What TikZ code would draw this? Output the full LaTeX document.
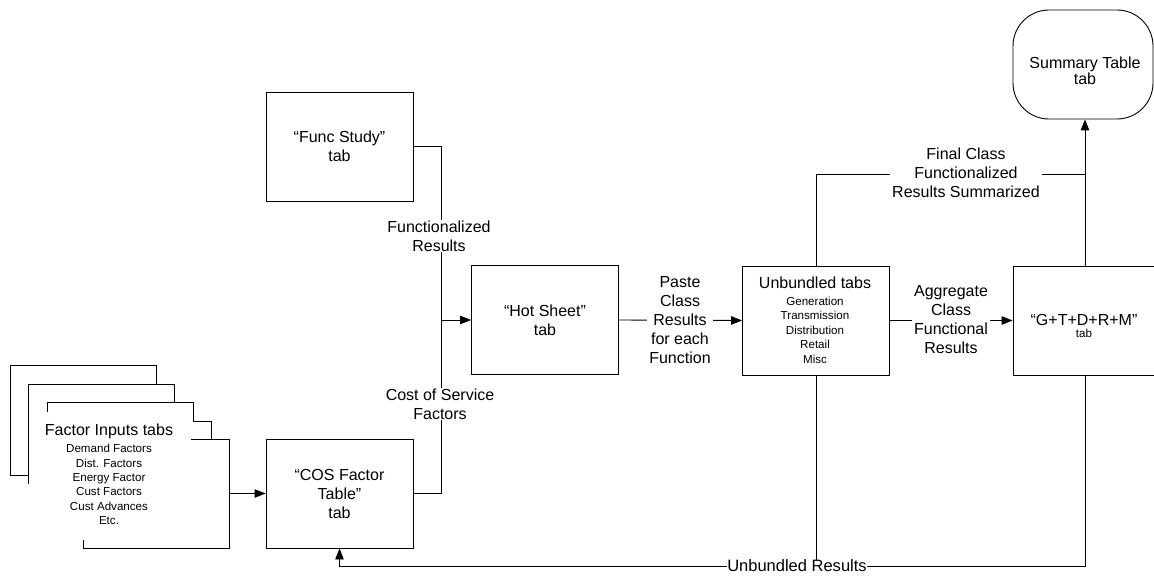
\documentclass[tikz,border=0pt]{standalone}
\usepackage{fontspec}
\setmainfont{Liberation Sans}
\usetikzlibrary{arrows.meta}
\newcommand\lblfont{\fontsize{16}{19}\selectfont}
\newcommand\smallfnt{\fontsize{11.6}{14.3}\selectfont}
\begin{document}
\begin{tikzpicture}[x=1pt,y=-1pt,line width=0.9pt,
  tab/.style={draw,fill=white,minimum width=147pt,minimum height=109pt,
    inner sep=0pt,align=center,font=\lblfont},
  lbl/.style={fill=white,inner xsep=2pt,inner ysep=1pt,align=center,font=\lblfont},
  txt/.style={inner sep=0pt,align=center,font=\lblfont},
  small/.style={inner sep=0pt,align=center,font=\smallfnt},
  arr/.style={-{Triangle[length=11pt,width=8.5pt]}}]
\useasboundingbox (0,0) rectangle (1154,585);

% ---- sheets ----
\node[tab] (func) at (339.5,146.5) {\fontsize{16}{17}\selectfont “Func Study”\\tab};
\node[tab] (cos)  at (339.5,493.5) {“COS Factor\\Table”\\tab};
\node[tab] (hot)  at (545,320) {\fontsize{16}{22}\selectfont “Hot Sheet”\\tab};
\node[tab] (unb)  at (816,320.5) {};
\node[tab,minimum width=144pt] (gtd) at (1085,320.5) {};
\node[draw,fill=white,rounded corners=36pt,minimum width=140pt,minimum height=109pt,
  inner sep=0pt] (summ) at (1083,64.5) {};
\node[minimum width=146pt,minimum height=109pt,inner sep=0pt] (fin) at (156,493.5) {};

% ---- stacked factor input sheets ----
\draw (28,475) -- (10,475) -- (10,365) -- (156,365) -- (156,384);
\draw (28,484) -- (28,384) -- (174,384) -- (174,402);
\draw (47,412) -- (47,402) -- (193,402) -- (193,421) -- (211,421) -- (211,439);
\draw (191,439) -- (229,439) -- (229,548) -- (83,548) -- (83,540);

% ---- texts inside shapes ----
\node[txt] (finT) at (109,431) {Factor Inputs tabs};
\node[small] (finL) at (109,484.5) {Demand Factors\\Dist. Factors\\Energy Factor\\Cust Factors\\Cust Advances\\Etc.};
\node[txt] (unbT) at (815,283) {Unbundled tabs};
\node[small,font=\fontsize{11.6}{14.5}\selectfont] (unbL) at (815,330) {Generation\\Transmission\\Distribution\\Retail\\Misc};
\node[txt] (gtdT) at (1084,320) {“G+T+D+R+M”};
\node[small] (gtdL) at (1084,333) {tab};
\node[txt,font=\fontsize{16}{16.5}\selectfont] (summT) at (1085,71) {Summary Table\\tab};

% ---- connectors ----
\coordinate (jf) at (441,320);
\coordinate (jt) at (1085,174);
\coordinate (jb) at (0,566);
\draw (func.east) -| (jf);
\draw (cos.east) -| (jf);
\draw[arr] (jf) -- (hot.west);
\draw[arr] (fin.east) -- (cos.west);
\draw[arr] (hot.east) -- (unb.west);
\draw[arr] (unb.east) -- (gtd.west);
\draw (unb.north) |- (jt);
\draw[arr] (gtd.north) -- (gtd.north |- summ.south);
\draw[arr] (gtd.south) |- (cos.south |- jb) -- (cos.south);
\draw (unb.south) -- (unb.south |- jb);

% ---- connector labels ----
\node[lbl] (lfr) at (439,236) {Functionalized\\Results};
\node[lbl] (lcs) at (440,404) {Cost of Service\\Factors};
\node[lbl] (lpc) at (680,320) {Paste\\Class\\Results\\for each\\Function};
\node[lbl] (lag) at (951,320) {Aggregate\\Class\\Functional\\Results};
\node[lbl] (lfc) at (966,173) {Final Class\\Functionalized\\Results Summarized};
\node[lbl,inner sep=0pt,font=\fontsize{16.5}{19}\selectfont] (lub) at (797,566) {Unbundled Results};
\end{tikzpicture}
\end{document}
